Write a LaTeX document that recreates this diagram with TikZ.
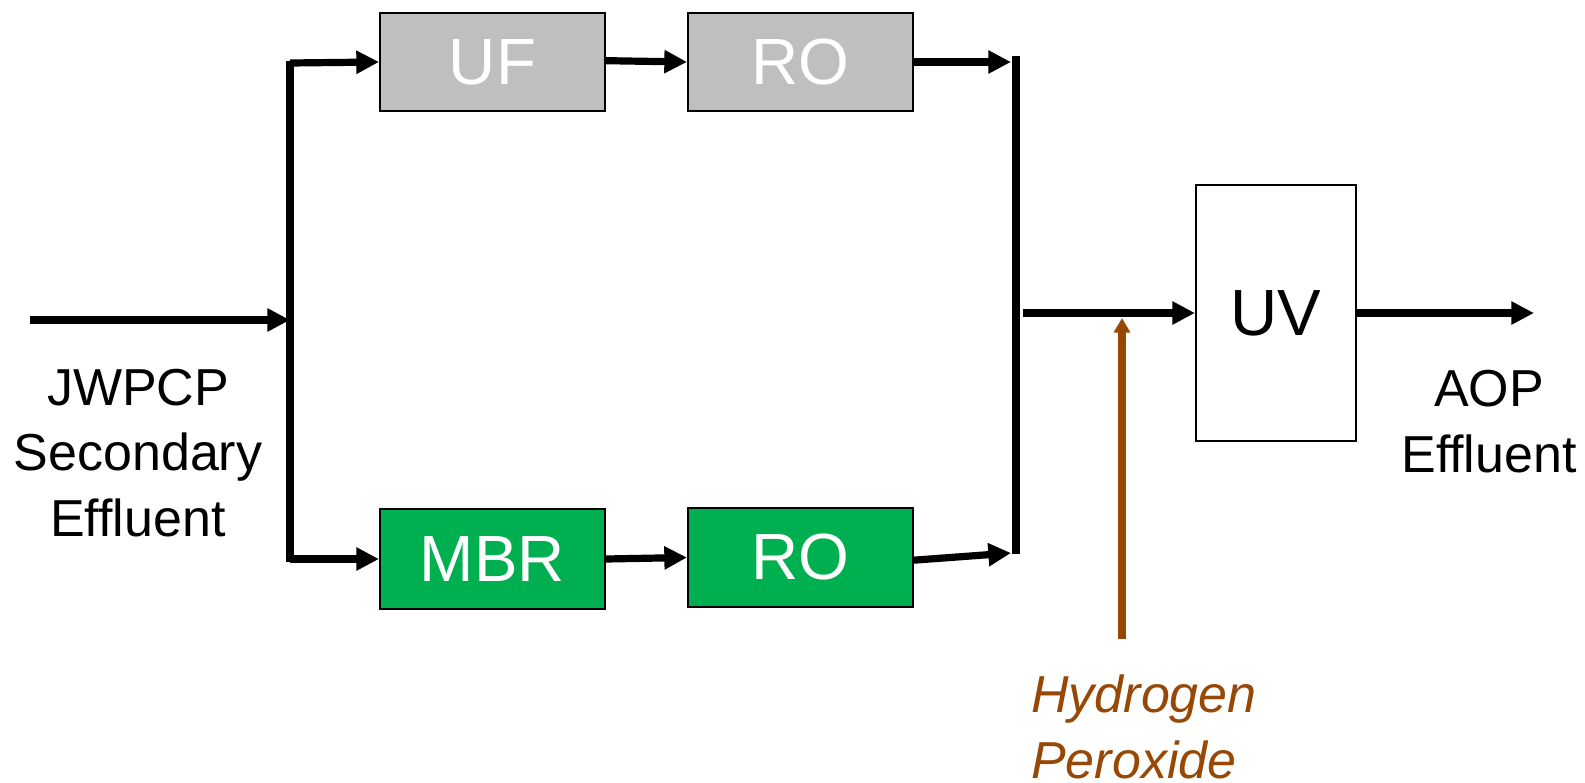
\documentclass[tikz,border=0pt]{standalone}
\usepackage{fontspec}
\setmainfont{Liberation Sans}
\usetikzlibrary{arrows.meta}
\definecolor{boxgray}{HTML}{BFBFBF}
\definecolor{boxgreen}{HTML}{00B050}
\definecolor{perox}{HTML}{984806}
\begin{document}
\begin{tikzpicture}[x=0.75pt,y=-0.75pt,
  procbox/.style={draw=black,line width=1.5pt,inner sep=0pt,minimum width=168.75pt,minimum height=73.5pt,font=\fontsize{49}{56}\selectfont},
  flow/.style={line width=5.4pt,-{Triangle[length=17pt,width=16.5pt]}},
  plain/.style={line width=5.4pt},
  lbl/.style={font=\fontsize{39}{49}\selectfont,align=center,inner sep=0pt},
]
\useasboundingbox (0,0) rectangle (1585,782);
% boxes
\node[procbox,fill=boxgray,text=white] (UF) at (492.5,62) {UF};
\node[procbox,fill=boxgray,text=white] (RO1) at (800.5,62) {RO};
\node[procbox,fill=boxgreen,text=white,minimum height=75pt] (MBR) at (492.5,559) {MBR};
\node[procbox,fill=boxgreen,text=white,minimum height=74.25pt] (RO2) at (800.5,557.5) {RO};
\node[procbox,fill=white,text=black,minimum width=120pt,minimum height=192pt] (UV) at (1276,313) {UV};
% coordinates
\coordinate (in) at (30,320);
\coordinate (split) at (290,320);
\coordinate (lbt) at (290,61);
\coordinate (lbb) at (290,562);
\coordinate (rbt) at (1016,56);
\coordinate (rbb) at (1016,554);
\coordinate (rin1) at (1011,60);
\coordinate (rin2) at (1011,553);
\coordinate (merge) at (1023,313);
\coordinate (out) at (1534,313);
\coordinate (hsrc) at (1122,639);
\coordinate (htip) at (1122,318);
% left manifold
\draw[flow] (in) -- (split);
\draw[plain] (lbt) -- (lbb);
\draw[flow] (lbt) ++(0,2) -- (UF.west);
\draw[flow] (290,559) -- (MBR.west);
% chains
\draw[flow] ([yshift=1pt]UF.east) -- (RO1.west);
\draw[flow] (MBR.east) -- (RO2.west);
\draw[flow] (RO1.east) -- (RO1.east -| rin1);
\draw[flow] ([yshift=-2pt]RO2.east) -- (rin2);
% right manifold
\draw[plain] (rbt) -- (rbb);
\draw[flow] (merge) -- (UV.west);
\draw[flow] (UV.east) -- (out);
% hydrogen peroxide
\draw[perox,line width=5.6pt,-{Triangle[length=11pt,width=12pt]}] (hsrc) -- (htip);
% labels
\node[lbl,anchor=base] (feed) at (138,536) {JWPCP\\Secondary\\Effluent};
\node[lbl,anchor=base] (eff) at (1489,472) {AOP\\Effluent};
\node[lbl,anchor=base west,align=left,text=perox,font=\fontsize{39}{49}\selectfont\itshape] (h2o2) at (1031,778) {Hydrogen\\Peroxide};
\end{tikzpicture}
\end{document}
